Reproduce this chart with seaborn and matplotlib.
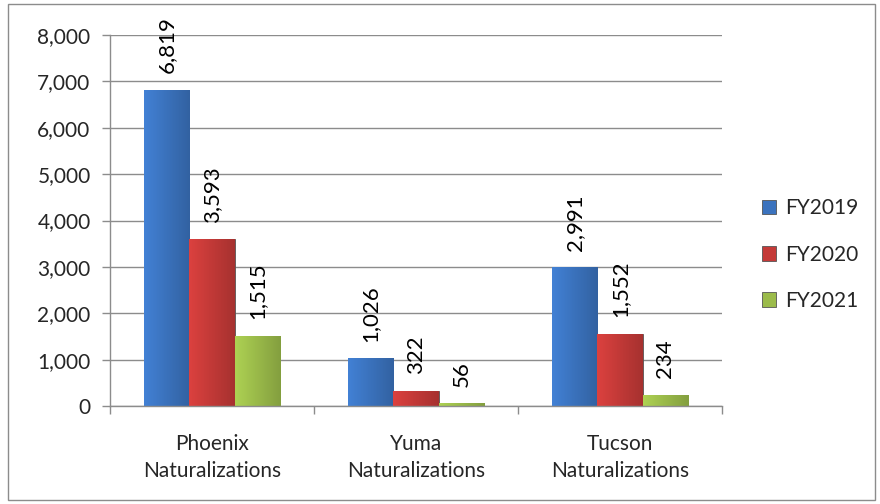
import matplotlib
matplotlib.use("Agg")
import matplotlib.pyplot as plt
import seaborn as sns
import pandas as pd
import numpy as np
from matplotlib.patches import Rectangle
from matplotlib.ticker import FuncFormatter, FixedLocator
from matplotlib.colors import to_rgb

categories = ["Phoenix\nNaturalizations", "Yuma\nNaturalizations", "Tucson\nNaturalizations"]
series = ["FY2019", "FY2020", "FY2021"]
fy2019 = [6819, 1026, 2991]
fy2020 = [3593, 322, 1552]
fy2021 = [1515, 56, 234]
colors = ["#3B73BE", "#C43A38", "#9BBB4A"]

rows = []
for s, vals in zip(series, [fy2019, fy2020, fy2021]):
    for c, v in zip(categories, vals):
        rows.append({"cat": c, "series": s, "value": v})
df = pd.DataFrame(rows)

sns.set_theme(style="white")
plt.rcParams['font.family'] = ['Lato', 'DejaVu Sans']

fig = plt.figure(figsize=(8.8, 5.04), dpi=100)
ax = fig.add_axes([110/880, 1-406/504, (722-110)/880, (406-35)/504])

sns.barplot(data=df, x="cat", y="value", hue="series", palette=colors,
            width=0.667, ax=ax, saturation=1, edgecolor="#555555", linewidth=0.6)
h, l = ax.get_legend_handles_labels()
if ax.legend_ is not None:
    ax.legend_.remove()

ax.set_ylim(0, 8000)
ax.set_xlim(-0.5, 2.5)

# subtle horizontal shading on bars
for cont, col in zip(ax.containers, colors):
    base = np.array(to_rgb(col))
    light = np.clip(base * 1.12, 0, 1)
    dark = base * 0.85
    t = np.linspace(0, 1, 64)
    grad = np.array([light * (1 - x) + dark * x for x in t])[None, :, :]
    for bar in cont:
        x0 = bar.get_x(); w = bar.get_width(); hh = bar.get_height()
        im = ax.imshow(grad, extent=(x0, x0 + w, 0, hh), aspect="auto",
                       zorder=bar.get_zorder() + 0.1, interpolation="bilinear")
        im.set_clip_path(bar)
ax.set_xlim(-0.5, 2.5)
ax.set_ylim(0, 8000)

for cont in ax.containers:
    for bar in cont:
        hh = bar.get_height()
        ax.annotate(f"{int(hh):,}", (bar.get_x() + bar.get_width()/2, hh),
                    xytext=(0, 12), textcoords="offset points", rotation=90,
                    ha="center", va="bottom", fontsize=16, color="#000000")

ax.set_yticks(range(0, 8001, 1000))
ax.yaxis.set_major_formatter(FuncFormatter(lambda v, p: f"{int(v):,}"))
ax.grid(axis="y", color="#8C8C8C", linewidth=1)
ax.set_axisbelow(True)
ax.set_xlabel("")
ax.set_ylabel("")
for sp in ["top", "right"]:
    ax.spines[sp].set_visible(False)
for sp in ["left", "bottom"]:
    ax.spines[sp].set_color("#8C8C8C")
    ax.spines[sp].set_linewidth(1)
ax.tick_params(axis="y", length=6, width=1, color="#8C8C8C", direction="out",
               labelsize=15, pad=8, left=True)
ax.xaxis.set_major_locator(FixedLocator([0, 1, 2]))
ax.set_xticklabels(categories, linespacing=1.45)
ax.tick_params(axis="x", length=0, labelsize=15, pad=20)
ax.xaxis.set_minor_locator(FixedLocator([-0.5, 0.5, 1.5, 2.5]))
ax.tick_params(axis="x", which="minor", length=6, width=1, color="#8C8C8C", bottom=True)

fig.legend(h, l, loc="center left", bbox_to_anchor=(743/880, 0.495), frameon=False,
           fontsize=15, handlelength=0.7, handleheight=0.7, labelspacing=1.25,
           handletextpad=0.4)

fig.patches.append(Rectangle((8/880, 4/504), (875-8)/880, (500-4)/504,
                             transform=fig.transFigure, fill=False,
                             edgecolor="#8C8C8C", linewidth=1))
fig.savefig("out.png", dpi=100)
